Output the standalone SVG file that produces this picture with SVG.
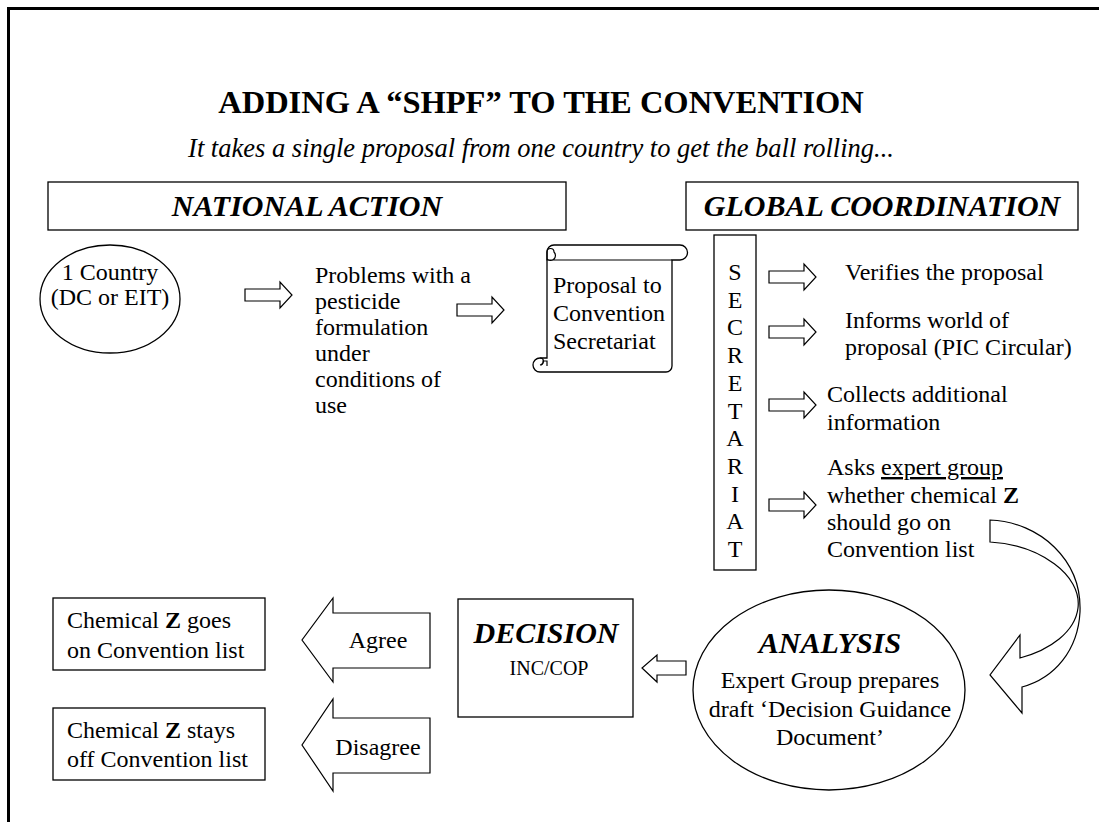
<svg xmlns="http://www.w3.org/2000/svg" width="1099" height="822" viewBox="0 0 1099 822">
<defs>
<style>
text{font-family:"Liberation Serif","Times New Roman",serif;fill:#000}
.b{font-size:24px}
.h{font-size:30px;font-weight:bold;font-style:italic}
.shape{fill:#fff;stroke:#000;stroke-width:1.3}
.arr{fill:#fff;stroke:#000;stroke-width:1.2;stroke-linejoin:miter}
.mid{text-anchor:middle}
</style>
<path id="sarr" d="M0,-6 H35 V-13 L47,0 L35,13 V6 H0 Z"/>
</defs>
<rect x="8.5" y="8.5" width="1200" height="900" fill="none" stroke="#000" stroke-width="3"/>
<g id="title">
<text x="541" y="113" class="mid" style="font-size:32.5px;font-weight:bold">ADDING A “SHPF” TO THE CONVENTION</text>
<text x="541" y="157" class="mid" style="font-size:26.5px;font-style:italic">It takes a single proposal from one country to get the ball rolling...</text>
</g>
<g id="national-action">
<rect x="48" y="182" width="518" height="48" class="shape"/>
<text x="307" y="216" class="h mid">NATIONAL ACTION</text>
</g>
<g id="global-coordination">
<rect x="686" y="182" width="392" height="48" class="shape"/>
<text x="882" y="216" class="h mid">GLOBAL COORDINATION</text>
</g>
<g id="country">
<ellipse cx="110" cy="299" rx="70" ry="54" class="shape"/>
<text x="110" y="280" class="b mid">1 Country</text>
<text x="110" y="305" class="b mid">(DC or EIT)</text>
</g>
<g id="problems">
<text class="b"><tspan x="315" y="283">Problems with a</tspan><tspan x="315" y="309">pesticide</tspan><tspan x="315" y="335">formulation</tspan><tspan x="315" y="361">under</tspan><tspan x="315" y="387">conditions of</tspan><tspan x="315" y="413">use</tspan></text>
</g>
<g id="proposal">
<path class="shape" d="M554,245 H680 A7.5,7.5 0 0 1 680,260 H672 V366 A6,6 0 0 1 666,372 H540 A7,7 0 0 1 540,358 H547 V252 A7,7 0 0 1 554,245 Z"/>
<path fill="none" stroke="#000" stroke-width="1.2" d="M547,252 A3.5,3.5 0 1 1 554,252 A3.5,3.5 0 0 1 547,259 M547,252 V260 H672 M540,358 A3.5,3.5 0 0 1 540,365 A3.5,3.5 0 0 0 543,361 H547 V366"/>
<text class="b"><tspan x="553" y="293">Proposal to</tspan><tspan x="553" y="321">Convention</tspan><tspan x="553" y="349">Secretariat</tspan></text>
</g>
<g id="secretariat">
<rect x="714" y="235" width="42" height="335" class="shape"/>
<text class="b mid"><tspan x="735" y="280">S</tspan><tspan x="735" y="307.7">E</tspan><tspan x="735" y="335.4">C</tspan><tspan x="735" y="363.1">R</tspan><tspan x="735" y="390.8">E</tspan><tspan x="735" y="418.5">T</tspan><tspan x="735" y="446.2">A</tspan><tspan x="735" y="473.9">R</tspan><tspan x="735" y="501.6">I</tspan><tspan x="735" y="529.3">A</tspan><tspan x="735" y="557">T</tspan></text>
</g>
<g id="verifies"><text x="845" y="280" class="b">Verifies the proposal</text></g>
<g id="informs"><text class="b"><tspan x="845" y="328">Informs world of</tspan><tspan x="845" y="355">proposal (PIC Circular)</tspan></text></g>
<g id="collects"><text class="b"><tspan x="827" y="402">Collects additional</tspan><tspan x="827" y="430">information</tspan></text></g>
<g id="asks"><text class="b"><tspan x="827" y="475">Asks <tspan style="text-decoration:underline">expert group</tspan></tspan><tspan x="827" y="503">whether chemical <tspan font-weight="bold">Z</tspan></tspan><tspan x="827" y="530">should go on</tspan><tspan x="827" y="557">Convention list</tspan></text></g>
<g id="analysis">
<ellipse cx="829" cy="690" rx="136" ry="100" class="shape"/>
<text x="830" y="653" class="h mid">ANALYSIS</text>
<text class="b mid"><tspan x="830" y="688">Expert Group prepares</tspan><tspan x="830" y="717">draft ‘Decision Guidance</tspan><tspan x="830" y="745">Document’</tspan></text>
</g>
<g id="decision">
<rect x="458" y="599" width="175" height="118" class="shape"/>
<text x="546" y="643" class="h mid">DECISION</text>
<text x="549" y="675" class="mid" style="font-size:20px">INC/COP</text>
</g>
<g id="goes-on">
<rect x="53" y="598" width="212" height="72" class="shape"/>
<text class="b"><tspan x="67" y="628">Chemical <tspan font-weight="bold">Z</tspan> goes</tspan><tspan x="67" y="658">on Convention list</tspan></text>
</g>
<g id="stays-off">
<rect x="53" y="708" width="212" height="72" class="shape"/>
<text class="b"><tspan x="67" y="738">Chemical <tspan font-weight="bold">Z</tspan> stays</tspan><tspan x="67" y="767">off Convention list</tspan></text>
</g>
<g id="connectors">
<use href="#sarr" class="arr" x="245" y="295"/>
<use href="#sarr" class="arr" x="457" y="310"/>
<use href="#sarr" class="arr" x="769" y="277"/>
<use href="#sarr" class="arr" x="769" y="332"/>
<use href="#sarr" class="arr" x="769" y="405"/>
<use href="#sarr" class="arr" x="769" y="505"/>
<path class="arr" d="M686,661 H657 V655 L642,668 L657,682 V675 H686 Z"/>
<path class="arr" d="M990,520 C1040,522 1082,560 1080,612 C1078,650 1055,678 1022,687 L1022,713 L990,675 L1020,635 L1020,658 C1050,650 1075,632 1078,608 C1082,575 1040,545 990,542 Z"/>
<path class="arr" d="M430,613 H333 V598 L302,640 L333,682 V668 H430 Z"/>
<text x="378" y="648" class="b mid">Agree</text>
<path class="arr" d="M430,718 H333 V699 L302,745 L333,791 V773 H430 Z"/>
<text x="378" y="755" class="b mid">Disagree</text>
</g>
</svg>
